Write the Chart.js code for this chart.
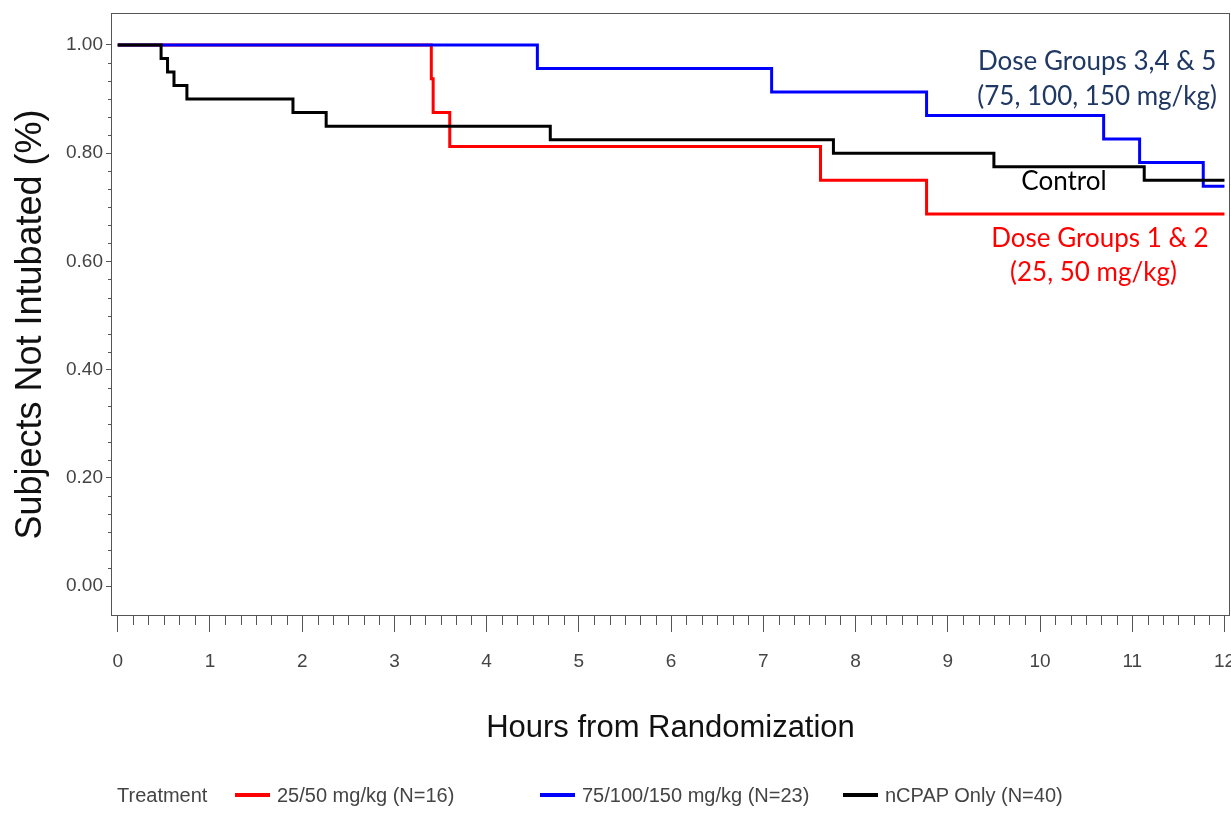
<!DOCTYPE html>
<html>
<head>
<meta charset="utf-8">
<script src="https://cdn.jsdelivr.net/npm/chart.js@4.4.1/dist/chart.umd.min.js"></script>
<style>
  html, body { margin: 0; padding: 0; background: #fff; }
  #wrap { position: relative; width: 1231px; height: 818px; }
  #legend { position: absolute; left: 0; top: 0; width: 1231px; height: 818px; pointer-events: none;
            font-family: 'Liberation Sans', Arial, sans-serif; font-size: 20px; color: #444; }
  .lg { position: absolute; top: 795px; transform: translateY(-50%); white-space: nowrap; line-height: 1; }
  .sw { position: absolute; top: 793px; width: 35px; height: 4px; }
</style>
</head>
<body>
<div id="wrap">
  <canvas id="km" width="1231" height="818"></canvas>
  <div id="legend"></div>
</div>
<script>
// Kaplan-Meier curves: event time (hours) and fraction still not intubated after it
const lowDoseTimes  = [0, 3.40, 3.42, 3.60, 7.62, 8.77, 12];
const lowDoseSurv   = [1, 0.9375, 0.875, 0.8125, 0.75, 0.6875, 0.6875];
const highDoseTimes = [0, 4.55, 7.09, 8.77, 10.69, 11.08, 11.77, 12];
const highDoseSurv  = [1, 0.9565, 0.9130, 0.8696, 0.8261, 0.7826, 0.7391, 0.7391];
const controlTimes  = [0, 0.47, 0.54, 0.61, 0.75, 1.90, 2.26, 4.69, 7.76, 9.50, 11.13, 12];
const controlSurv   = [1, 0.975, 0.95, 0.925, 0.90, 0.875, 0.85, 0.825, 0.80, 0.775, 0.75, 0.75];

const seriesLabels = ['25/50 mg/kg (N=16)', '75/100/150 mg/kg (N=23)', 'nCPAP Only (N=40)'];
const hourTicks = [0, 1, 2, 3, 4, 5, 6, 7, 8, 9, 10, 11, 12];
const survTicks = [0, 0.2, 0.4, 0.6, 0.8, 1.0];

const noteLines = ['Dose Groups 3,4 & 5', '(75, 100, 150 mg/kg)', 'Control', 'Dose Groups 1 & 2', '(25, 50 mg/kg)'];

// text notes placed in data units
const noteX = [10.62, 10.62, 10.26, 10.65, 10.58];
const noteY = [0.969, 0.904, 0.747, 0.643, 0.580];
const noteColors = ['#1f3864', '#1f3864', '#000000', '#ff0000', '#ff0000'];

const sans = "'Liberation Sans', Arial, sans-serif";

function toPoints(ts, ss) {
  return ts.map((t, i) => ({ x: t, y: ss[i] }));
}

// frame, minor ticks and the text notes
const extras = {
  id: 'extras',
  afterDraw(chart) {
    const { ctx, chartArea: a, scales: { x, y } } = chart;
    ctx.save();
    ctx.strokeStyle = '#555';
    ctx.lineWidth = 1;
    ctx.strokeRect(a.left + 0.5, a.top + 0.5, a.right - a.left - 1, a.bottom - a.top - 1);

    ctx.beginPath();
    const last = hourTicks[hourTicks.length - 1];
    for (let i = 0; i <= last * 6; i++) {
      if (i % 6 === 0) continue;
      const px = Math.round(x.getPixelForValue(i / 6)) + 0.5;
      ctx.moveTo(px, a.bottom);
      ctx.lineTo(px, a.bottom + 9);
    }
    for (let i = 0; i <= 30; i++) {
      if (i % 6 === 0) continue;
      const py = Math.round(y.getPixelForValue(i / 30)) + 0.5;
      ctx.moveTo(a.left - 3, py);
      ctx.lineTo(a.left, py);
    }
    ctx.stroke();

    ctx.font = "26px Lato, 'Open Sans', sans-serif";
    ctx.textAlign = 'center';
    ctx.textBaseline = 'middle';
    noteLines.forEach((txt, i) => {
      ctx.fillStyle = noteColors[i];
      ctx.fillText(txt, x.getPixelForValue(noteX[i]), y.getPixelForValue(noteY[i]));
    });
    ctx.restore();
  }
};

const colors = ['#ff0000', '#0000ff', '#000000'];
const chartData = {
  datasets: [
    { label: seriesLabels[0], data: toPoints(lowDoseTimes, lowDoseSurv), borderColor: colors[0], order: 3 },
    { label: seriesLabels[1], data: toPoints(highDoseTimes, highDoseSurv), borderColor: colors[1], order: 2 },
    { label: seriesLabels[2], data: toPoints(controlTimes, controlSurv), borderColor: colors[2], order: 1 }
  ].map(d => Object.assign(d, { stepped: 'before', borderWidth: 3, pointRadius: 0, fill: false }))
};

const kmChart = new Chart(document.getElementById('km'), {
  type: 'line',
  data: chartData,
  plugins: [extras],
  options: {
    responsive: false,
    animation: false,
    layout: { padding: { top: 13, right: 1, bottom: 0, left: 0 } },
    plugins: { legend: { display: false }, tooltip: { enabled: false } },
    scales: {
      x: {
        type: 'linear',
        min: -0.073,
        max: 12.06,
        afterBuildTicks: s => { s.ticks = hourTicks.map(v => ({ value: v })); },
        afterFit: s => { s.height = 202; s.paddingLeft = 0; s.paddingRight = 0; },
        grid: { drawOnChartArea: false, tickLength: 16, color: '#555' },
        border: { display: false },
        ticks: { padding: 18, color: '#444', font: { family: sans, size: 19 }, maxRotation: 0,
                 callback: v => String(v) },
        title: { display: true, text: 'Hours from Randomization', color: '#111',
                 font: { family: sans, size: 31 }, padding: { bottom: 71 } }
      },
      y: {
        min: -0.055,
        max: 1.059,
        afterBuildTicks: s => { s.ticks = survTicks.map(v => ({ value: v })); },
        afterFit: s => { s.width = 111; s.paddingTop = 0; s.paddingBottom = 0; },
        grid: { drawOnChartArea: false, tickLength: 5, color: '#555' },
        border: { display: false },
        ticks: { padding: 3, color: '#444', font: { family: sans, size: 19 },
                 callback: v => v.toFixed(2) },
        title: { display: true, text: 'Subjects Not Intubated (%)  ', color: '#111',
                 font: { family: sans, size: 36 }, padding: { top: 9 } }
      }
    }
  }
});

// legend along the bottom, SAS style
const legend = document.getElementById('legend');
const swatchLeft = [235, 540, 843];
const head = document.createElement('div');
head.className = 'lg';
head.style.left = '117px';
head.textContent = 'Treatment';
legend.appendChild(head);
kmChart.data.datasets.forEach((ds, i) => {
  const sw = document.createElement('div');
  sw.className = 'sw';
  sw.style.left = swatchLeft[i] + 'px';
  sw.style.background = ds.borderColor;
  legend.appendChild(sw);
  const lb = document.createElement('div');
  lb.className = 'lg';
  lb.style.left = (swatchLeft[i] + 42) + 'px';
  lb.textContent = ds.label;
  legend.appendChild(lb);
});
</script>
</body>
</html>
